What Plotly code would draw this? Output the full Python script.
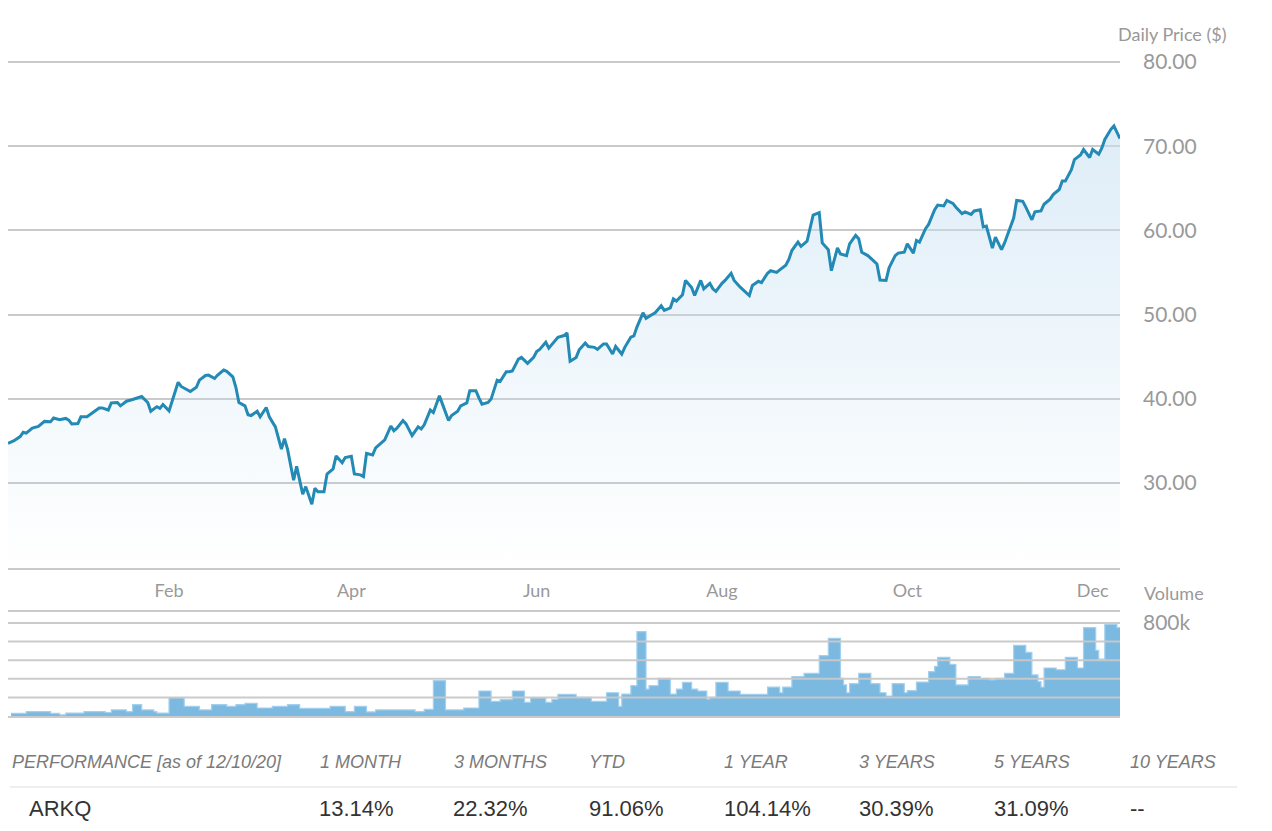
import plotly.graph_objects as go

W, H = 1272, 831

price_dates = [
    "2019-12-10", "2019-12-12", "2019-12-14", "2019-12-15", "2019-12-16", "2019-12-18", "2019-12-20",
    "2019-12-22", "2019-12-24", "2019-12-25", "2019-12-27", "2019-12-29", "2019-12-30", "2019-12-31",
    "2020-01-02", "2020-01-03", "2020-01-05", "2020-01-07", "2020-01-09", "2020-01-10", "2020-01-12",
    "2020-01-13", "2020-01-15", "2020-01-16", "2020-01-18", "2020-01-20", "2020-01-23", "2020-01-25",
    "2020-01-26", "2020-01-28", "2020-01-29", "2020-01-30", "2020-02-01", "2020-02-04", "2020-02-05",
    "2020-02-08", "2020-02-10", "2020-02-11", "2020-02-13", "2020-02-14", "2020-02-16", "2020-02-17",
    "2020-02-19", "2020-02-20", "2020-02-22", "2020-02-23", "2020-02-24", "2020-02-26", "2020-02-27",
    "2020-02-28", "2020-03-01", "2020-03-02", "2020-03-04", "2020-03-05", "2020-03-07", "2020-03-09",
    "2020-03-10", "2020-03-11", "2020-03-13", "2020-03-14", "2020-03-16", "2020-03-17", "2020-03-19",
    "2020-03-20", "2020-03-21", "2020-03-23", "2020-03-24", "2020-03-26", "2020-03-27", "2020-03-29",
    "2020-03-30", "2020-04-01", "2020-04-02", "2020-04-04", "2020-04-05", "2020-04-06", "2020-04-08",
    "2020-04-09", "2020-04-11", "2020-04-12", "2020-04-14", "2020-04-15", "2020-04-16", "2020-04-18",
    "2020-04-19", "2020-04-21", "2020-04-23", "2020-04-24", "2020-04-25", "2020-04-27", "2020-04-28",
    "2020-04-30", "2020-05-01", "2020-05-03", "2020-05-04", "2020-05-06", "2020-05-07", "2020-05-09",
    "2020-05-10", "2020-05-12", "2020-05-13", "2020-05-14", "2020-05-16", "2020-05-17", "2020-05-19",
    "2020-05-20", "2020-05-22", "2020-05-23", "2020-05-24", "2020-05-26", "2020-05-27", "2020-05-29",
    "2020-05-31", "2020-06-01", "2020-06-02", "2020-06-04", "2020-06-05", "2020-06-07", "2020-06-08",
    "2020-06-10", "2020-06-11", "2020-06-12", "2020-06-14", "2020-06-15", "2020-06-17", "2020-06-18",
    "2020-06-20", "2020-06-21", "2020-06-23", "2020-06-24", "2020-06-26", "2020-06-27", "2020-06-29",
    "2020-06-30", "2020-07-02", "2020-07-03", "2020-07-04", "2020-07-06", "2020-07-07", "2020-07-09",
    "2020-07-10", "2020-07-12", "2020-07-13", "2020-07-15", "2020-07-16", "2020-07-17", "2020-07-19",
    "2020-07-20", "2020-07-22", "2020-07-23", "2020-07-25", "2020-07-26", "2020-07-28", "2020-07-29",
    "2020-07-30", "2020-08-01", "2020-08-02", "2020-08-04", "2020-08-05", "2020-08-07", "2020-08-08",
    "2020-08-10", "2020-08-11", "2020-08-13", "2020-08-14", "2020-08-16", "2020-08-17", "2020-08-19",
    "2020-08-20", "2020-08-22", "2020-08-23", "2020-08-24", "2020-08-26", "2020-08-27", "2020-08-29",
    "2020-08-30", "2020-08-31", "2020-09-02", "2020-09-03", "2020-09-05", "2020-09-06", "2020-09-08",
    "2020-09-09", "2020-09-11", "2020-09-12", "2020-09-14", "2020-09-15", "2020-09-16", "2020-09-18",
    "2020-09-20", "2020-09-21", "2020-09-22", "2020-09-24", "2020-09-25", "2020-09-27", "2020-09-28",
    "2020-09-30", "2020-10-01", "2020-10-03", "2020-10-04", "2020-10-05", "2020-10-07", "2020-10-08",
    "2020-10-10", "2020-10-11", "2020-10-13", "2020-10-14", "2020-10-16", "2020-10-17", "2020-10-19",
    "2020-10-20", "2020-10-22", "2020-10-23", "2020-10-25", "2020-10-26", "2020-10-27", "2020-10-29",
    "2020-10-30", "2020-11-01", "2020-11-02", "2020-11-04", "2020-11-05", "2020-11-06", "2020-11-08",
    "2020-11-09", "2020-11-11", "2020-11-12", "2020-11-14", "2020-11-15", "2020-11-17", "2020-11-18",
    "2020-11-20", "2020-11-21", "2020-11-22", "2020-11-24", "2020-11-25", "2020-11-27", "2020-11-28",
    "2020-11-30", "2020-12-01", "2020-12-03", "2020-12-04", "2020-12-05", "2020-12-07", "2020-12-08",
    "2020-12-10",
]
price_values = [
    34.7, 35.0, 35.5, 36.0, 35.9, 36.5, 36.7,
    37.3, 37.25, 37.7, 37.5, 37.65, 37.45, 37.0,
    37.05, 37.85, 37.85, 38.4, 38.9, 38.9, 38.65,
    39.5, 39.55, 39.15, 39.7, 39.9, 40.25, 39.55,
    38.5, 39.05, 38.85, 39.3, 38.55, 41.95, 41.45,
    40.85, 41.35, 42.2, 42.75, 42.8, 42.4, 42.8,
    43.4, 43.25, 42.6, 41.35, 39.55, 39.15, 38.1,
    38.0, 38.5, 37.85, 38.95, 37.85, 36.65, 34.0,
    35.25, 34.0, 30.3, 31.95, 28.65, 29.55, 27.45,
    29.35, 28.95, 28.95, 31.05, 31.65, 33.2, 32.4,
    33.0, 33.15, 31.05, 30.95, 30.75, 33.5, 33.3,
    34.15, 34.85, 35.1, 36.75, 36.2, 36.5, 37.4,
    37.0, 35.6, 36.65, 36.4, 36.9, 38.65, 38.35,
    40.35, 39.35, 37.4, 38.0, 38.5, 39.15, 39.5,
    40.95, 40.95, 40.1, 39.35, 39.55, 39.95, 42.2,
    42.05, 43.2, 43.2, 43.3, 44.7, 44.9, 44.2,
    44.9, 45.6, 45.85, 46.7, 46.0, 46.8, 47.3,
    47.5, 47.8, 44.45, 44.9, 45.8, 46.6, 46.2,
    46.1, 45.85, 46.5, 46.5, 45.3, 46.2, 45.3,
    46.1, 47.3, 47.45, 48.5, 50.2, 49.55, 50.0,
    50.2, 51.05, 50.5, 50.8, 51.85, 51.6, 52.35,
    54.05, 53.2, 52.25, 54.05, 53.05, 53.7, 53.05,
    52.75, 53.7, 54.05, 54.9, 54.05, 53.25, 52.95,
    52.25, 53.45, 53.95, 53.8, 54.9, 55.2, 55.0,
    55.3, 55.85, 56.55, 57.6, 58.6, 58.1, 58.7,
    60.4, 61.8, 62.1, 58.5, 57.7, 55.2, 57.9,
    57.2, 57.0, 58.4, 59.4, 59.0, 57.4, 57.0,
    56.35, 56.0, 54.1, 54.05, 55.55, 57.0, 57.3,
    57.4, 58.4, 57.3, 58.8, 58.6, 60.2, 60.7,
    62.45, 63.0, 62.9, 63.55, 63.2, 62.75, 62.0,
    62.2, 61.9, 62.3, 62.45, 60.4, 60.5, 57.9,
    59.2, 57.7, 58.5, 60.4, 61.45, 63.55, 63.45,
    62.75, 61.25, 62.2, 62.3, 63.1, 63.7, 64.25,
    64.85, 65.85, 65.85, 67.2, 68.4, 68.95, 69.6,
    68.65, 69.6, 69.05, 69.75, 70.8, 72.0, 72.4,
    70.9,
]

volume_dates = [
    "2019-12-11", "2019-12-16", "2019-12-24", "2019-12-27", "2019-12-29", "2020-01-04", "2020-01-11",
    "2020-01-13", "2020-01-18", "2020-01-20", "2020-01-23", "2020-01-27", "2020-01-28", "2020-02-01",
    "2020-02-06", "2020-02-11", "2020-02-15", "2020-02-20", "2020-02-23", "2020-02-26", "2020-03-01",
    "2020-03-06", "2020-03-11", "2020-03-15", "2020-03-25", "2020-03-30", "2020-04-02", "2020-04-06",
    "2020-04-09", "2020-04-22", "2020-04-25", "2020-04-28", "2020-05-02", "2020-05-08", "2020-05-13",
    "2020-05-17", "2020-05-20", "2020-05-24", "2020-05-28", "2020-05-30", "2020-06-04", "2020-06-06",
    "2020-06-08", "2020-06-14", "2020-06-19", "2020-06-24", "2020-06-28", "2020-06-29", "2020-07-02",
    "2020-07-04", "2020-07-07", "2020-07-08", "2020-07-11", "2020-07-15", "2020-07-17", "2020-07-19",
    "2020-07-22", "2020-07-24", "2020-07-27", "2020-07-28", "2020-07-30", "2020-08-03", "2020-08-07",
    "2020-08-16", "2020-08-20", "2020-08-21", "2020-08-24", "2020-08-28", "2020-09-02", "2020-09-05",
    "2020-09-09", "2020-09-10", "2020-09-11", "2020-09-12", "2020-09-15", "2020-09-19", "2020-09-22",
    "2020-09-24", "2020-09-26", "2020-09-30", "2020-10-01", "2020-10-04", "2020-10-08", "2020-10-10",
    "2020-10-11", "2020-10-15", "2020-10-17", "2020-10-21", "2020-10-25", "2020-10-28", "2020-10-30",
    "2020-11-02", "2020-11-05", "2020-11-09", "2020-11-11", "2020-11-13", "2020-11-14", "2020-11-15",
    "2020-11-19", "2020-11-22", "2020-11-26", "2020-11-28", "2020-12-02", "2020-12-03", "2020-12-05",
    "2020-12-09", "2020-12-10",
]
volume_values = [
    23000, 37000, 23000, 9000, 25000, 37000, 30000,
    52000, 37000, 97000, 52000, 37000, 25000, 157000,
    83000, 52000, 97000, 83000, 97000, 109000, 69000,
    83000, 97000, 66000, 83000, 37000, 83000, 35000,
    52000, 37000, 57000, 304000, 52000, 69000, 215000,
    126000, 140000, 215000, 118000, 157000, 118000, 143000,
    186000, 160000, 126000, 200000, 83000, 189000, 261000,
    725000, 232000, 261000, 324000, 189000, 232000, 290000,
    232000, 215000, 146000, 160000, 290000, 215000, 186000,
    249000, 200000, 249000, 338000, 367000, 519000, 668000,
    324000, 267000, 200000, 278000, 367000, 278000, 200000,
    172000, 278000, 200000, 218000, 292000, 381000, 427000,
    505000, 445000, 267000, 338000, 324000, 310000, 324000,
    367000, 608000, 548000, 353000, 295000, 249000, 413000,
    398000, 505000, 413000, 760000, 565000, 490000, 789000,
    760000, 760000,
]

month_ticks = ["2020-02-01", "2020-04-01", "2020-06-01", "2020-08-01", "2020-10-01", "2020-12-01"]
month_labels = ["Feb", "Apr", "Jun", "Aug", "Oct", "Dec"]
price_ticks = [30, 40, 50, 60, 70, 80]
price_tick_labels = ["30.00", "40.00", "50.00", "60.00", "70.00", "80.00"]
volume_ticks = [0, 160000, 320000, 480000, 640000, 800000]
volume_tick_labels = ["", "", "", "", "", "800k"]

perf_headers = ["PERFORMANCE [as of 12/10/20]", "1 MONTH", "3 MONTHS", "YTD",
                "1 YEAR", "3 YEARS", "5 YEARS", "10 YEARS"]
perf_values = ["ARKQ", "13.14%", "22.32%", "91.06%", "104.14%", "30.39%", "31.09%", "--"]


def px(x):
    return x / W


def py(y):
    return 1 - y / H


GRID = "#cacaca"
LABEL = "#999999"
AXFONT = "Lato"
TABLEFONT = "Liberation Sans, Arial"

fig = go.Figure()

fig.add_trace(go.Scatter(
    x=price_dates, y=price_values, mode="lines",
    line=dict(color="#2389b5", width=3),
    fill="tozeroy",
    fillgradient=dict(type="vertical",
                      colorscale=[[0, "rgba(197,223,242,0.0)"], [1, "rgba(197,223,242,0.6)"]],
                      start=20, stop=75),
    hoverinfo="skip", showlegend=False,
    xaxis="x", yaxis="y",
))

fig.add_trace(go.Scatter(
    x=volume_dates, y=volume_values, mode="lines",
    line=dict(color="#a3d0ee", width=1.2, shape="hv"),
    fill="tozeroy", fillcolor="#7cb9e0",
    hoverinfo="skip", showlegend=False,
    xaxis="x2", yaxis="y2",
))

x_domain = [px(8), px(1120)]
x_range = ["2019-12-10", "2020-12-10"]

# price axis: 20 -> y=567px, 80 -> y=62px, padded so the top grid line is not clipped
p_lo, p_hi = 19.9, 80.35
ppu = (567 - 62) / 60.0
price_domain = [py(567 + (20 - p_lo) * ppu), py(62 - (p_hi - 80) * ppu)]

shapes = []
for v in volume_ticks[1:]:
    shapes.append(dict(type="line", xref="x2 domain", x0=0, x1=1, yref="y2", y0=v, y1=v,
                       line=dict(color="rgba(200,200,200,0.95)", width=2), layer="above"))
shapes.append(dict(type="line", xref="paper", yref="paper", x0=px(10), x1=px(1237),
                   y0=py(787), y1=py(787), line=dict(color="#dedede", width=1)))

annotations = [
    dict(text="Daily Price ($)", x=px(1172), y=py(34), xref="paper", yref="paper",
         xanchor="center", yanchor="middle", showarrow=False,
         font=dict(family=AXFONT, size=18, color=LABEL)),
    dict(text="Volume", x=px(1174), y=py(593), xref="paper", yref="paper",
         xanchor="center", yanchor="middle", showarrow=False,
         font=dict(family=AXFONT, size=18, color=LABEL)),
]
header_x = [10, 318, 452, 587, 722, 857, 992, 1128]
value_x = [27, 317, 451, 587, 722, 857, 992, 1128]
for label, x in zip(perf_headers, header_x):
    annotations.append(dict(text="<i>" + label + "</i>", x=px(x), y=py(762), xref="paper", yref="paper",
                            xanchor="left", yanchor="middle", showarrow=False,
                            font=dict(family=TABLEFONT, size=18, color="#7a7a7a")))
for label, x in zip(perf_values, value_x):
    annotations.append(dict(text=label, x=px(x), y=py(808), xref="paper", yref="paper",
                            xanchor="left", yanchor="middle", showarrow=False,
                            font=dict(family=TABLEFONT, size=22, color="#333333")))

fig.update_layout(
    width=W, height=H,
    margin=dict(l=0, r=0, t=0, b=0, pad=0),
    paper_bgcolor="white", plot_bgcolor="white",
    showlegend=False,
    hovermode=False,
    xaxis=dict(domain=x_domain, type="date", range=x_range, anchor="y", automargin=False,
               tickvals=month_ticks, ticktext=month_labels,
               showgrid=False, zeroline=False,
               showline=True, linecolor=GRID, linewidth=2,
               ticks="", ticklabelstandoff=6,
               tickfont=dict(family=AXFONT, size=18, color=LABEL)),
    yaxis=dict(domain=price_domain, range=[p_lo, p_hi], anchor="x", side="right", automargin=False,
               tickvals=price_ticks, ticktext=price_tick_labels,
               showgrid=True, gridcolor=GRID, gridwidth=2, zeroline=False,
               showline=False, ticks="", ticklabelstandoff=22,
               tickfont=dict(family=AXFONT, size=21, color=LABEL)),
    xaxis2=dict(domain=x_domain, type="date", range=x_range, anchor="y2", automargin=False,
                showticklabels=False, showgrid=False, zeroline=False,
                showline=True, mirror=True, linecolor=GRID, linewidth=2, ticks=""),
    yaxis2=dict(domain=[py(716), py(612)], range=[0, 894600], anchor="x2", side="right",
                automargin=False,
                tickvals=volume_ticks, ticktext=volume_tick_labels,
                showgrid=False, zeroline=False, showline=False, ticks="",
                ticklabelstandoff=22,
                tickfont=dict(family=AXFONT, size=21, color=LABEL)),
    shapes=shapes,
    annotations=annotations,
)

fig.write_html("out.html", config={"displayModeBar": False},
               post_script="document.body.style.margin='0px';")
